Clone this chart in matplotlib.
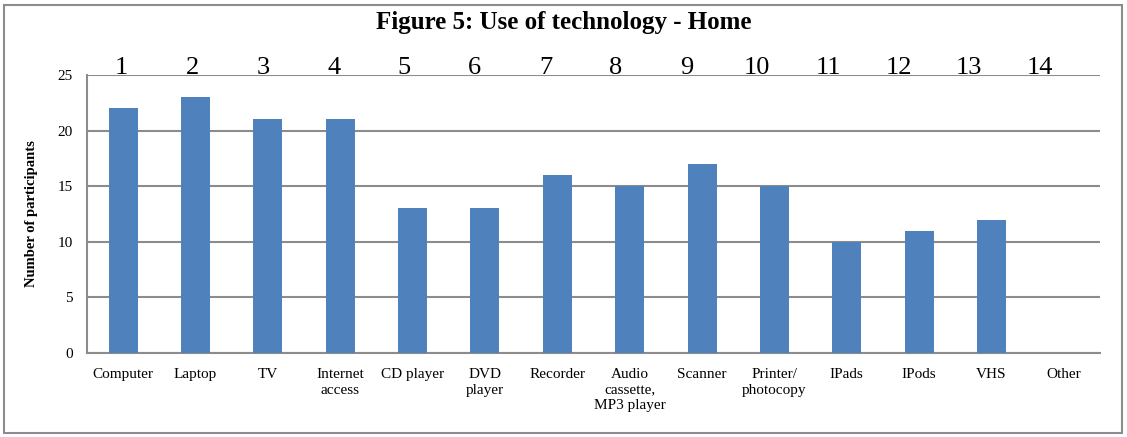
import matplotlib.pyplot as plt
from matplotlib.patches import Rectangle

# ====== Data ======
categories = ["Computer", "Laptop", "TV", "Internet\naccess", "CD player",
              "DVD\nplayer", "Recorder", "Audio\ncassette,\nMP3 player",
              "Scanner", "Printer/\nphotocopy", "IPads", "IPods", "VHS", "Other"]
numbers = [str(i) for i in range(1, 15)]
participants = [22, 23, 21, 21, 13, 13, 16, 15, 17, 15, 10, 11, 12, 0]
y_ticks = [0, 5, 10, 15, 20, 25]
# ==================

plt.rcParams['font.family'] = ['Liberation Serif', 'DejaVu Serif']

fig = plt.figure(figsize=(11.27, 4.37), dpi=100)
ax = fig.add_axes([87 / 1127, 1 - 353 / 437, (1100 - 87) / 1127, (353 - 75) / 437])

x = list(range(len(categories)))
ax.bar(x, participants, width=0.4, color="#4F81BD", zorder=3)

ax.set_xlim(-0.5, len(categories) - 0.5)
ax.set_ylim(0, 25)
ax.set_yticks(y_ticks)
ax.set_yticklabels([str(v) for v in y_ticks], fontsize=11)
ax.set_xticks(x)
ax.set_xticklabels(categories, fontsize=11, linespacing=1.25, va="top")
ax.tick_params(axis="x", length=0, pad=11)
ax.tick_params(axis="y", length=0, pad=10)

ax.yaxis.grid(True, color="#8C8C8C", linewidth=1.5, zorder=0)
for side in ["top", "right"]:
    ax.spines[side].set_visible(False)
ax.spines["left"].set_color("#8C8C8C")
ax.spines["left"].set_linewidth(1.5)
ax.spines["bottom"].set_color("#8C8C8C")
ax.spines["bottom"].set_linewidth(1.5)

# top numbering - typed in the original, so slightly tighter than the bars
top = ax.secondary_xaxis("top")
top.set_xticks([i * 0.976 - 0.02 for i in x])
top.set_xticklabels(numbers, fontsize=19)
top.tick_params(length=0, pad=-3)
top.spines["top"].set_visible(False)

ax.set_ylabel("Number of participants", fontsize=10.5, fontweight="bold", labelpad=14)

fig.text(0.5, 1 - 23 / 437, "Figure 5: Use of technology - Home", ha="center",
         va="center", fontsize=18, fontweight="bold")

# outer border
fig.patches.append(Rectangle((4 / 1127, 4 / 437), 1 - 9 / 1127, 1 - 9 / 437,
                             transform=fig.transFigure, fill=False,
                             edgecolor="#8C8C8C", linewidth=1.5))

fig.savefig("out.png", dpi=100)
